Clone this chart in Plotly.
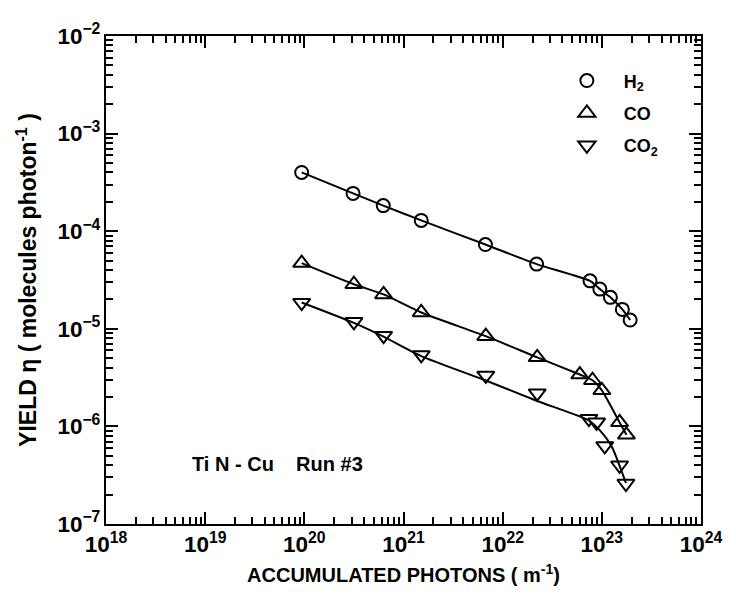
import plotly.graph_objects as go

# ---- data ----
h2_x = [9.4e19, 3.1e20, 6.25e20, 1.51e21, 6.7e21, 2.2e22, 7.6e22, 9.55e22, 1.22e23, 1.61e23, 1.93e23]
h2_y = [4.0e-4, 2.44e-4, 1.83e-4, 1.29e-4, 7.3e-5, 4.6e-5, 3.1e-5, 2.55e-5, 2.1e-5, 1.58e-5, 1.23e-5]

co_x = [9.4e19, 3.16e20, 6.3e20, 1.51e21, 6.76e21, 2.23e22, 6.0e22, 8.05e22, 1.0e23, 1.51e23, 1.77e23]
co_y = [4.71e-5, 2.86e-5, 2.25e-5, 1.47e-5, 8.4e-6, 5.1e-6, 3.4e-6, 2.97e-6, 2.34e-6, 1.10e-6, 8.2e-7]

co2_x = [9.4e19, 3.16e20, 6.3e20, 1.51e21, 6.76e21, 2.23e22, 7.4e22, 8.85e22, 1.07e23, 1.51e23, 1.75e23]
co2_y = [1.85e-5, 1.18e-5, 8.5e-6, 5.4e-6, 3.33e-6, 2.19e-6, 1.20e-6, 1.10e-6, 6.3e-7, 4.0e-7, 2.6e-7]

# fitted curve drawn through the CO2 data
co2_fit_x = [9.4e19, 3.16e20, 6.3e20, 1.51e21, 6.76e21, 2.23e22, 7.4e22, 9.55e22, 1.26e23, 1.75e23]
co2_fit_y = [1.86e-5, 1.15e-5, 8.3e-6, 5.25e-6, 2.95e-6, 1.82e-6, 1.15e-6, 9.1e-7, 6.2e-7, 2.63e-7]

x_decades = [18, 24]
y_decades = [-7, -2]
series_names = ["H<sub>2</sub>", "CO", "CO<sub>2</sub>"]
annotation_text = "Ti N - Cu    Run #3"
x_title = "ACCUMULATED PHOTONS ( m<sup>-1</sup>)"
y_title = "YIELD \u03b7 ( molecules photon<sup>-1</sup> )"

FONT = "Liberation Sans Narrow, Arial Narrow, Liberation Sans, Arial, sans-serif"
W = "bold"

fig = go.Figure()

line_style = dict(color="black", width=2)
fig.add_trace(go.Scatter(x=h2_x, y=h2_y, mode="lines", xaxis="x2", yaxis="y2",
                         line=dict(shape="spline", smoothing=0.6, **line_style),
                         showlegend=False, hoverinfo="skip"))
fig.add_trace(go.Scatter(x=co_x, y=co_y, mode="lines", xaxis="x2", yaxis="y2",
                         line=dict(shape="spline", smoothing=0.6, **line_style),
                         showlegend=False, hoverinfo="skip"))
fig.add_trace(go.Scatter(x=co2_fit_x, y=co2_fit_y, mode="lines", xaxis="x2", yaxis="y2",
                         line=dict(shape="spline", smoothing=0.6, **line_style),
                         showlegend=False, hoverinfo="skip"))

mk_line = dict(color="black", width=2)
fig.add_trace(go.Scatter(x=h2_x, y=h2_y, mode="markers", name=series_names[0], legendgroup="a",
                         marker=dict(symbol="circle", size=13, color="white", line=mk_line)))
fig.add_trace(go.Scatter(x=co_x, y=co_y, mode="markers", name=series_names[1], legendgroup="b",
                         marker=dict(symbol="triangle-up", size=15, color="white", line=mk_line)))
fig.add_trace(go.Scatter(x=co2_x, y=co2_y, mode="markers", name=series_names[2], legendgroup="c",
                         marker=dict(symbol="triangle-down", size=15, color="white", line=mk_line)))


def minor_vals(lo, hi):
    return [m * 10.0 ** e for e in range(lo, hi) for m in range(2, 10)]


tick_font = dict(family=FONT, size=18, color="black", weight=W)
major_common = dict(
    type="log", showgrid=False, zeroline=False,
    showline=True, linecolor="black", linewidth=2, mirror="allticks",
    ticks="inside", ticklen=12, tickwidth=2, tickcolor="black",
    tickfont=tick_font, tickmode="linear", tick0=0, dtick=1,
    exponentformat="power", showexponent="all",
)
minor_common = dict(
    type="log", showgrid=False, zeroline=False,
    showline=True, linecolor="black", linewidth=2, mirror="allticks",
    ticks="inside", ticklen=7, tickwidth=1.6, tickcolor="black",
    showticklabels=False, tickmode="array",
)

fig.update_layout(
    xaxis=dict(**major_common, range=x_decades,
               title=dict(text=x_title, font=dict(family=FONT, size=20, color="black", weight=W), standoff=12)),
    yaxis=dict(**major_common, range=y_decades,
               title=dict(text=y_title, font=dict(family=FONT, size=23, color="black", weight=W), standoff=14)),
    xaxis2=dict(**minor_common, range=x_decades, overlaying="x", anchor="y2", side="bottom",
                tickvals=minor_vals(*x_decades)),
    yaxis2=dict(**minor_common, range=y_decades, overlaying="y", anchor="x2", side="left",
                tickvals=minor_vals(*y_decades)),
)

fig.add_annotation(text=annotation_text, xref="paper", yref="paper", x=0.141, y=0.122,
                   xanchor="left", yanchor="middle", showarrow=False,
                   font=dict(family=FONT, size=20, color="black", weight=W))

fig.update_layout(
    width=736, height=598,
    margin=dict(l=98, r=43, t=16, b=82),
    paper_bgcolor="white", plot_bgcolor="white",
    font=dict(family=FONT, color="black"),
    legend=dict(x=0.746, y=0.946, xanchor="left", yanchor="top", bgcolor="rgba(0,0,0,0)",
                font=dict(family=FONT, size=18, color="black", weight=W),
                traceorder="grouped", tracegroupgap=6, itemwidth=64),
)

fig.write_html("out.html")
